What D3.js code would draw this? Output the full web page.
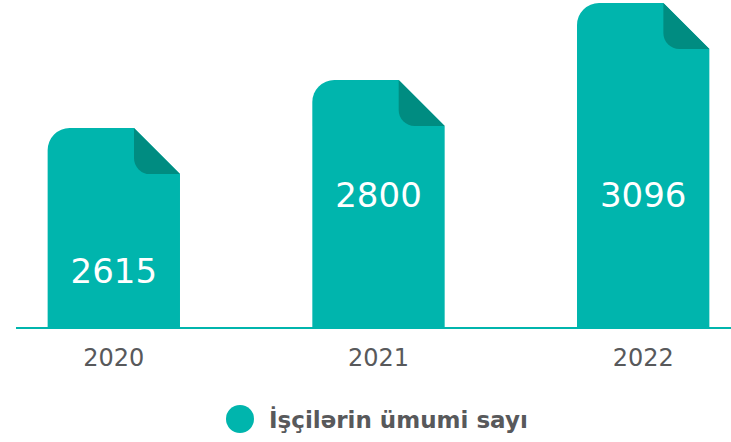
<!DOCTYPE html>
<html>
<head>
<meta charset="utf-8">
<script src="https://cdn.jsdelivr.net/npm/d3@7"></script>
<style>
  body { margin: 0; background: #fff; }
  text { font-family: "DejaVu Sans", "Open Sans", sans-serif; }
</style>
</head>
<body>
<div id="chart"></div>
<script>
// chart data
var years = ["2020", "2021", "2022"];
var workers = [2615, 2800, 3096];
var seriesName = "İşçilərin ümumi sayı";

var width = 731, height = 442;
var baseline = 327;
var teal = "#00b5ad", tealDark = "#008c81", grey = "#58595b";

var svg = d3.select("#chart")
   .append("svg")
   .attr("width", width)
   .attr("height", height);

var x = d3.scaleBand()
   .domain(years)
   .range([0, 757])
   .paddingInner(0.5)
   .paddingOuter(0.18);

// bars don't start at zero in the original, keep a cut domain
var y = d3.scaleLinear()
   .domain([1850, 3100])
   .range([baseline, 2]);

var fold = 46, rCorner = 22, rFold = 16;

//page shape with a folded corner
function pagePath(x0, top, w) {
  return "M" + x0 + "," + baseline +
    "L" + x0 + "," + (top + rCorner) +
    "A" + rCorner + "," + rCorner + " 0 0 1 " + (x0 + rCorner) + "," + top +
    "L" + (x0 + w - fold) + "," + top +
    "L" + (x0 + w) + "," + (top + fold) +
    "L" + (x0 + w) + "," + baseline + "Z";
}
function foldPath(x0, top, w) {
  var fx = x0 + w - fold;
  return "M" + fx + "," + top +
    "L" + fx + "," + (top + fold - rFold) +
    "A" + rFold + "," + rFold + " 0 0 0 " + (fx + rFold) + "," + (top + fold) +
    "L" + (x0 + w) + "," + (top + fold) + "Z";
}

var data = years.map(function(d, i) { return {year: d, value: workers[i]}; });

var g = svg.selectAll(".bar")
   .data(data)
   .enter()
   .append("g")
   .attr("class", "bar");

g.append("path")
   .attr("d", function(d) { return pagePath(x(d.year), y(d.value), x.bandwidth()); })
   .style("fill", teal);

g.append("path")
   .attr("d", function(d) { return foldPath(x(d.year), y(d.value), x.bandwidth()); })
   .style("fill", tealDark);

//value labels, the short bar gets it lower
g.append("text")
   .text(function(d) { return d.value; })
   .attr("x", function(d) { return x(d.year) + x.bandwidth() / 2; })
   .attr("y", function(d) { return baseline - y(d.value) > 220 ? baseline - 120 : baseline - 44; })
   .attr("text-anchor", "middle")
   .style("font-size", "34px")
   .style("fill", "#fff");

//axis line
svg.append("line")
   .attr("x1", 16)
   .attr("x2", width)
   .attr("y1", baseline + 1)
   .attr("y2", baseline + 1)
   .style("stroke", teal)
   .style("stroke-width", 2);

//year labels
svg.selectAll(".year")
   .data(years)
   .enter()
   .append("text")
   .attr("class", "year")
   .text(function(d) { return d; })
   .attr("x", function(d) { return x(d) + x.bandwidth() / 2; })
   .attr("y", 366)
   .attr("text-anchor", "middle")
   .style("font-size", "24px")
   .style("fill", grey);

//legend
var legend = svg.append("g");
legend.append("circle")
   .attr("cx", 240)
   .attr("cy", 419)
   .attr("r", 14)
   .style("fill", teal);
legend.append("text")
   .text(seriesName)
   .attr("x", 269)
   .attr("y", 428)
   .style("font-size", "23px")
   .style("font-weight", "bold")
   .style("fill", grey);
</script>
</body>
</html>
